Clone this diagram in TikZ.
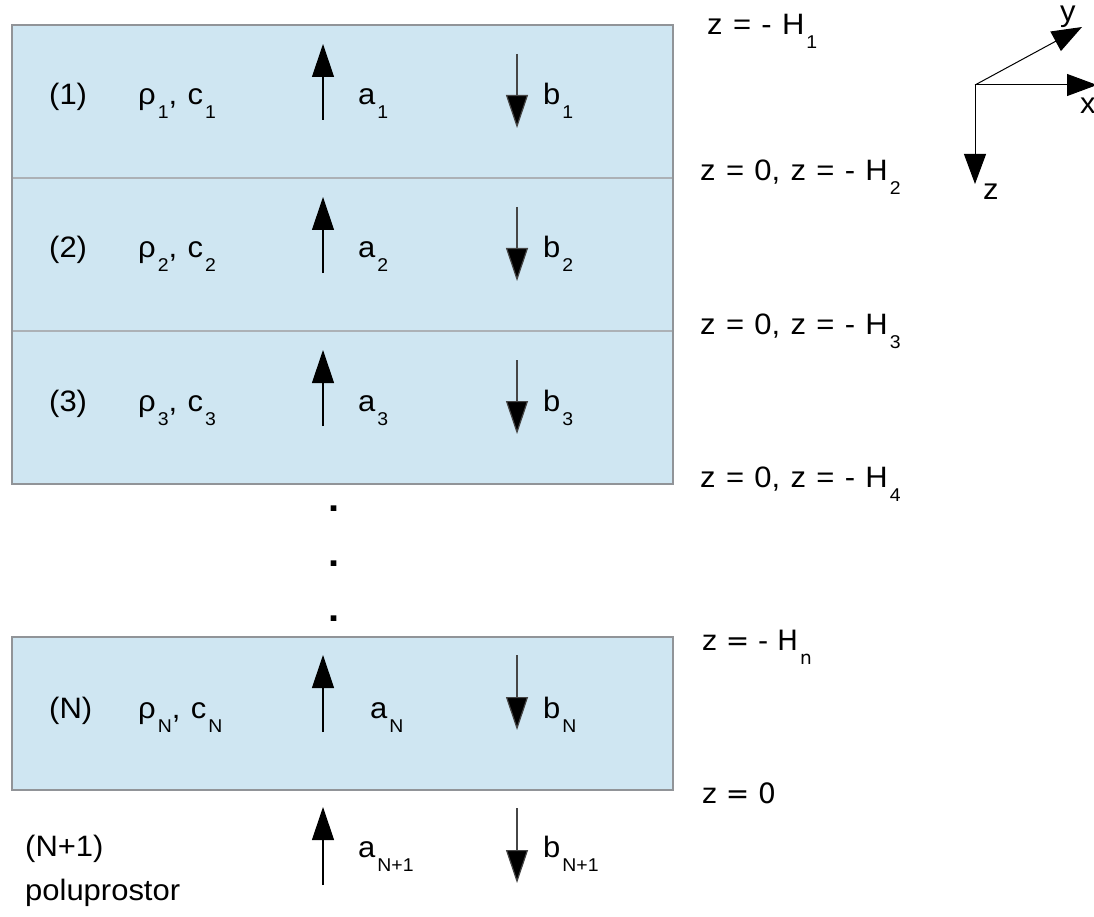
\documentclass[tikz,border=0pt]{standalone}
\usepackage{fontspec}
\setmainfont{Liberation Sans}[FakeStretch=1.05, WordSpace=1.2]
\newfontfamily\dvs{DejaVu Sans}
\usetikzlibrary{arrows.meta}
\definecolor{layerfill}{RGB}{207,230,242}
\definecolor{layerborder}{RGB}{145,148,152}
\definecolor{sepcol}{RGB}{172,177,182}
\definecolor{downcol}{RGB}{70,70,70}
\newcommand{\sbs}[1]{\kern2pt\raisebox{-14pt}{\fontsize{18.5}{18.5}\selectfont #1}}
\begin{document}
\begin{tikzpicture}[x=1pt,y=-1pt,
  lbl/.style={anchor=base west, inner sep=0pt, font=\fontsize{29.5}{30}\selectfont},
  dlbl/.style={anchor=base west, inner sep=0pt, font=\dvs\fontsize{28}{30}\selectfont},
  uparr/.style={line width=1.2pt, -{Triangle[length=33pt,width=22pt]}},
  downarr/.style={line width=1.2pt, draw=downcol, -{Triangle[length=33pt,width=22pt,fill=black]}},
  axarr/.style={line width=1pt, -{Triangle[length=30pt,width=22pt]}},
  border/.style={draw=layerborder, line width=1.6pt},
  sepline/.style={draw=sepcol, line width=1.6pt},
  dotnode/.style={anchor=base, inner sep=0pt, font=\bfseries\fontsize{38}{38}\selectfont}]
\useasboundingbox (0,0) rectangle (1094,917);
% layers 1-3
\fill[layerfill] (12,25) rectangle (673,484);
\draw[sepline] (12,178) -- (673,178);
\draw[sepline] (12,331) -- (673,331);
\draw[border] (12,25) rectangle (673,484);
% layer N
\draw[border, fill=layerfill] (12,637) rectangle (673,790);

\foreach \k/\T in {1/25,2/178,3/331}{
  \coordinate (au\k) at (323,{\T+95});
  \coordinate (at\k) at (323,{\T+19});
  \coordinate (bu\k) at (517,{\T+29});
  \coordinate (bt\k) at (517,{\T+103});
  \draw[uparr] (au\k) -- (at\k);
  \draw[downarr] (bu\k) -- (bt\k);
  \node[lbl] (lay\k) at (49,{\T+80}) {(\k)};
  \node[lbl] (rc\k) at (138,{\T+80}) {ρ\sbs{\k}, c\sbs{\k}};
  \node[lbl] (al\k) at (358,{\T+80}) {a\sbs{\k}};
  \node[lbl] (bl\k) at (543,{\T+80}) {b\sbs{\k}};
}
% layer N
\coordinate (auN) at (323,732);
\coordinate (atN) at (323,655);
\coordinate (buN) at (517,655);
\coordinate (btN) at (517,730);
\draw[uparr] (auN) -- (atN);
\draw[downarr] (buN) -- (btN);
\node[lbl] (layN) at (49,718) {(N)};
\node[lbl] (rcN) at (138,718) {ρ\sbs{N}, c\sbs{N}};
\node[lbl] (alN) at (370,718) {a\sbs{N}};
\node[lbl] (blN) at (543,718) {b\sbs{N}};
% half-space
\coordinate (auM) at (323,885);
\coordinate (atM) at (323,807);
\coordinate (buM) at (517,808);
\coordinate (btM) at (517,883);
\draw[uparr] (auM) -- (atM);
\draw[downarr] (buM) -- (btM);
\node[lbl] (layM) at (25,856) {(N+1)};
\node[lbl] (polu) at (25,900) {poluprostor};
\node[lbl] (alM) at (358,857) {a\sbs{N+1}};
\node[lbl] (blM) at (543,857) {b\sbs{N+1}};
% dots
\node[dotnode] (d1) at (334,511) {.};
\node[dotnode] (d2) at (334,566) {.};
\node[dotnode] (d3) at (334,621) {.};
% right labels
\node[lbl] (z1) at (707,35) {z = - H\sbs{1}};
\node[lbl] (z2) at (700,181) {z = 0, z = - H\sbs{2}};
\node[lbl] (z3) at (700,334) {z = 0, z = - H\sbs{3}};
\node[lbl] (z4) at (700,487) {z = 0, z = - H\sbs{4}};
\node[dlbl] (zn) at (702,650) {z = - H\sbs{n}};
\node[dlbl] (z0) at (702,803) {z = 0};
% axes
\coordinate (O) at (975,85);
\coordinate (X) at (1097,85);
\coordinate (Y) at (1082,27);
\coordinate (Z) at (975,184);
\draw[axarr] (O) -- (X);
\draw[axarr] (O) -- (Y);
\draw[axarr] (O) -- (Z);
\node[lbl] (xl) at (1080,114) {x};
\node[lbl] (yl) at (1060,22) {y};
\node[lbl] (zl) at (983,200) {z};
\end{tikzpicture}
\end{document}
